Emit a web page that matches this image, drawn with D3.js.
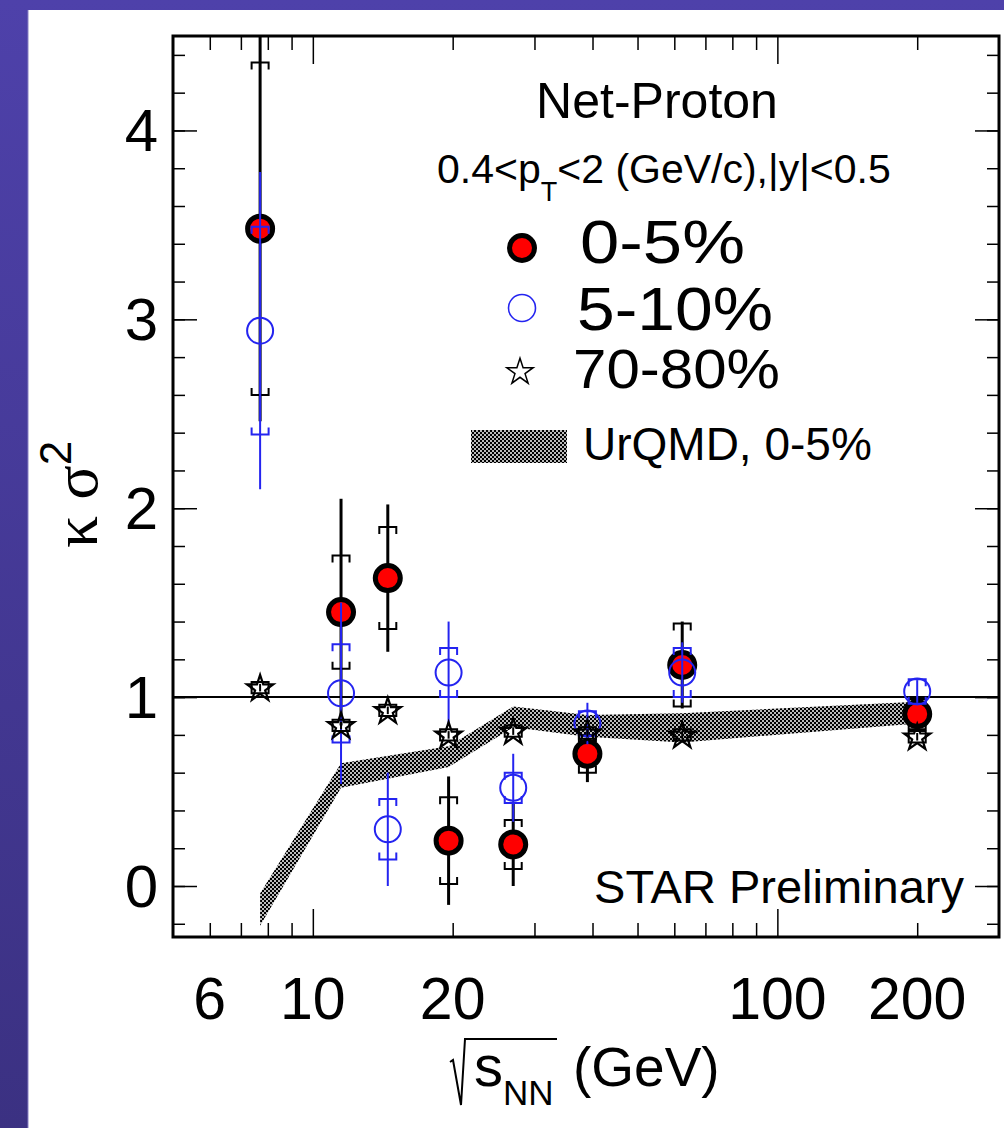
<!DOCTYPE html>
<html>
<head>
<meta charset="utf-8">
<script src="https://cdn.jsdelivr.net/npm/d3@7"></script>
<style>
  body { margin: 0; background: #fff; }
  svg text { font-family: "Liberation Sans", Arial, Helvetica, sans-serif; fill: #000; }
</style>
</head>
<body>
<div id="chart"></div>
<script>
// beam energies (GeV)
const energies = [7.7, 11.5, 14.5, 19.6, 27, 39, 62.4, 200];

// 0-5% central
const central05 = [3.48, 1.45, 1.63, 0.24, 0.22, 0.70, 1.17, 0.91];
const central05Stat = [1.02, 0.60, 0.39, 0.34, 0.22, 0.15, 0.23, 0.06];
const central05Sys = [0.88, 0.30, 0.27, 0.23, 0.13, 0.10, 0.22, 0.08];

// 5-10%
const central510 = [2.94, 1.02, 0.30, 1.13, 0.52, 0.86, 1.13, 1.03];
const central510Stat = [0.84, 0.48, 0.30, 0.27, 0.18, 0.11, 0.16, 0.06];
const central510Sys = [0.55, 0.26, 0.16, 0.13, 0.08, 0.065, 0.13, 0.065];

// 70-80%
const peripheral = [1.05, 0.85, 0.93, 0.80, 0.82, 0.81, 0.80, 0.79];
const peripheralStat = [0.02, 0.02, 0.02, 0.02, 0.02, 0.02, 0.02, 0.02];
const peripheralSys = [0.03, 0.03, 0.03, 0.03, 0.03, 0.03, 0.03, 0.03];

// UrQMD 0-5% band
const urqmdEnergies = [7.7, 11.5, 19.6, 27, 39, 62.4, 200];
const urqmdHigh = [-0.04, 0.65, 0.74, 0.95, 0.905, 0.915, 0.975];
const urqmdLow = [-0.21, 0.52, 0.63, 0.84, 0.79, 0.76, 0.86];

const xMajorTicks = [10, 100];
const xMinorTicks = [6, 7, 8, 9, 20, 30, 40, 50, 60, 70, 80, 90, 200];
const xTickLabels = [6, 10, 20, 100, 200];
const yLabels = [0, 1, 2, 3, 4];
const yMajorTicks = [0, 1, 2, 3, 4];
const yMinorTicks = d3.range(-0.2, 4.41, 0.2).map((d) => +d.toFixed(1));

const W = 1004, H = 1128;
const frame = { left: 173, top: 36, right: 999, bottom: 937 };

const svg = d3.select("#chart").append("svg")
  .attr("width", W)
  .attr("height", H);

const defs = svg.append("defs");

const grad = defs.append("linearGradient")
  .attr("id", "bandGrad")
  .attr("x1", 0).attr("y1", 0).attr("x2", 0).attr("y2", 1);
grad.append("stop").attr("offset", "0%").attr("stop-color", "#4e41aa");
grad.append("stop").attr("offset", "100%").attr("stop-color", "#3b3182");

// fine checkerboard used for the model band
const checker = defs.append("pattern")
  .attr("id", "checker")
  .attr("width", 4).attr("height", 4)
  .attr("patternUnits", "userSpaceOnUse");
checker.append("rect").attr("x", 0).attr("y", 0).attr("width", 2).attr("height", 2)
  .attr("fill", "#000").attr("shape-rendering", "crispEdges");
checker.append("rect").attr("x", 2).attr("y", 2).attr("width", 2).attr("height", 2)
  .attr("fill", "#000").attr("shape-rendering", "crispEdges");
checker.append("rect").attr("x", 2).attr("y", 0).attr("width", 2).attr("height", 2)
  .attr("fill", "#bbb").attr("shape-rendering", "crispEdges");
checker.append("rect").attr("x", 0).attr("y", 2).attr("width", 2).attr("height", 2)
  .attr("fill", "#bbb").attr("shape-rendering", "crispEdges");

defs.append("clipPath").attr("id", "plotClip")
  .append("rect")
  .attr("x", frame.left).attr("y", frame.top)
  .attr("width", frame.right - frame.left)
  .attr("height", frame.bottom - frame.top);

// slide background
svg.append("rect").attr("width", W).attr("height", H).attr("fill", "url(#bandGrad)");
svg.append("rect").attr("x", 28).attr("y", 10).attr("width", W - 28).attr("height", H - 10).attr("fill", "#fff");
svg.append("line").attr("x1", 28).attr("x2", 28).attr("y1", 10).attr("y2", H)
  .attr("stroke", "#8a82c4").attr("stroke-width", 1);

const x = d3.scaleLog().domain([5, 300]).range([frame.left, frame.right]);
const y = d3.scaleLinear().domain([-0.27, 4.5]).range([frame.bottom, frame.top]);

const plot = svg.append("g").attr("clip-path", "url(#plotClip)");

// UrQMD band
const bandPts = urqmdEnergies.map((e, i) => [x(e), y(urqmdHigh[i])])
  .concat(urqmdEnergies.map((e, i) => [x(e), y(urqmdLow[i])]).reverse());
plot.append("path")
  .attr("d", d3.line()(bandPts) + "Z")
  .attr("fill", "url(#checker)");

// reference line at 1
plot.append("line")
  .attr("x1", frame.left).attr("x2", frame.right)
  .attr("y1", y(1)).attr("y2", y(1))
  .attr("stroke", "#000").attr("stroke-width", 2);

function drawErrors(vals, stat, sys, color, statWidth) {
  const g = plot.append("g");
  const pts = energies.map((e, i) => ({ e, v: vals[i], st: stat[i], sy: sys[i] }));
  g.selectAll("line.stat").data(pts).join("line")
    .attr("x1", (d) => x(d.e)).attr("x2", (d) => x(d.e))
    .attr("y1", (d) => y(d.v + d.st)).attr("y2", (d) => y(d.v - d.st))
    .attr("stroke", color).attr("stroke-width", statWidth);
  const hw = 8.5, tk = 7;
  g.selectAll("path.sysU").data(pts).join("path")
    .attr("d", (d) => {
      const cx = x(d.e), yy = y(d.v + d.sy);
      return `M${cx - hw},${yy + tk}V${yy}H${cx + hw}V${yy + tk}`;
    })
    .attr("fill", "none").attr("stroke", color).attr("stroke-width", 2);
  g.selectAll("path.sysL").data(pts).join("path")
    .attr("d", (d) => {
      const cx = x(d.e), yy = y(d.v - d.sy);
      return `M${cx - hw},${yy - tk}V${yy}H${cx + hw}V${yy - tk}`;
    })
    .attr("fill", "none").attr("stroke", color).attr("stroke-width", 2);
  return g;
}

const star = d3.symbol().type(d3.symbolStar).size(215);

// 0-5%
const gRed = drawErrors(central05, central05Stat, central05Sys, "#000", 3);
gRed.selectAll("circle").data(energies).join("circle")
  .attr("cx", (d) => x(d)).attr("cy", (d, i) => y(central05[i]))
  .attr("r", 12.5).attr("fill", "#ff0000").attr("stroke", "#000").attr("stroke-width", 5);

// 5-10%
const gBlue = drawErrors(central510, central510Stat, central510Sys, "#2424f0", 2);
gBlue.selectAll("circle").data(energies).join("circle")
  .attr("cx", (d) => x(d)).attr("cy", (d, i) => y(central510[i]))
  .attr("r", 13).attr("fill", "none").attr("stroke", "#2424f0").attr("stroke-width", 2);

// 70-80%
const gStar = drawErrors(peripheral, peripheralStat, peripheralSys, "#000", 2);
gStar.selectAll("path.star").data(energies).join("path")
  .attr("class", "star")
  .attr("transform", (d, i) => `translate(${x(d)},${y(peripheral[i]) + 1})`)
  .attr("d", star)
  .attr("fill", "none").attr("stroke", "#000").attr("stroke-width", 2.2);

// axes ticks (inward on all four sides)
function tickAxis(axis, transform, values, size) {
  const g = svg.append("g")
    .attr("transform", transform)
    .call(axis.tickValues(values).tickSize(size).tickFormat(""));
  g.select(".domain").remove();
  g.selectAll(".tick line").attr("stroke", "#000").attr("stroke-width", 1.5);
}
tickAxis(d3.axisLeft(y), `translate(${frame.left},0)`, yMinorTicks, -12);
tickAxis(d3.axisLeft(y), `translate(${frame.left},0)`, yMajorTicks, -24);
tickAxis(d3.axisRight(y), `translate(${frame.right},0)`, yMinorTicks, -12);
tickAxis(d3.axisRight(y), `translate(${frame.right},0)`, yMajorTicks, -24);
tickAxis(d3.axisBottom(x), `translate(0,${frame.bottom})`, xMinorTicks, -14);
tickAxis(d3.axisBottom(x), `translate(0,${frame.bottom})`, xMajorTicks, -28);
tickAxis(d3.axisTop(x), `translate(0,${frame.top})`, xMinorTicks, -14);
tickAxis(d3.axisTop(x), `translate(0,${frame.top})`, xMajorTicks, -28);

svg.append("rect")
  .attr("x", frame.left).attr("y", frame.top)
  .attr("width", frame.right - frame.left).attr("height", frame.bottom - frame.top)
  .attr("fill", "none").attr("stroke", "#000").attr("stroke-width", 3);

// tick labels
svg.append("g").selectAll("text").data(yLabels).join("text")
  .attr("x", 158).attr("y", (d) => y(d) + 21)
  .attr("text-anchor", "end")
  .attr("font-size", 60)
  .text((d) => d);

svg.append("g").selectAll("text").data(xTickLabels).join("text")
  .attr("x", (d) => x(d)).attr("y", 1019)
  .attr("text-anchor", "middle")
  .attr("font-size", 59)
  .text((d) => d);

// y title
const yt = svg.append("text")
  .attr("transform", "translate(97,548) rotate(-90)")
  .attr("font-size", 64);
yt.append("tspan").attr("font-family", "Liberation Serif, serif").text("κ σ");
yt.append("tspan").attr("font-size", 44).attr("dy", -26).text("2");

// x title
svg.append("path")
  .attr("d", "M450,1062 L453,1060 L461,1105 L465,1039 H557")
  .attr("fill", "none").attr("stroke", "#000").attr("stroke-width", 2);
svg.append("text").attr("x", 474).attr("y", 1086).attr("font-size", 58).text("s");
svg.append("text").attr("x", 503).attr("y", 1105).attr("font-size", 35).text("NN");
svg.append("text").attr("x", 573).attr("y", 1086).attr("font-size", 55).text("(GeV)");

// legend and labels
svg.append("text").attr("x", 657).attr("y", 118).attr("text-anchor", "middle")
  .attr("font-size", 50).text("Net-Proton");

const sub = svg.append("text").attr("x", 437).attr("y", 183).attr("font-size", 41);
sub.append("tspan").text("0.4<p");
sub.append("tspan").attr("font-size", 27).attr("dy", 18).text("T");
sub.append("tspan").attr("dy", -18).text("<2 (GeV/c),|y|<0.5");

const legendRows = [
  { label: "0-5%", y: 263, size: 62, len: 165, sym: "red", cy: 248, tx: 580 },
  { label: "5-10%", y: 330, size: 61, len: 196, sym: "blue", cy: 308, tx: 577 },
  { label: "70-80%", y: 388, size: 56, len: 207, sym: "star", cy: 372, tx: 573 },
];
const legend = svg.append("g");
legendRows.forEach((r) => {
  if (r.sym === "red") {
    legend.append("circle").attr("cx", 522).attr("cy", r.cy).attr("r", 12.5)
      .attr("fill", "#ff0000").attr("stroke", "#000").attr("stroke-width", 5);
  } else if (r.sym === "blue") {
    legend.append("circle").attr("cx", 522).attr("cy", r.cy).attr("r", 13.5)
      .attr("fill", "none").attr("stroke", "#2424f0").attr("stroke-width", 1.6);
  } else {
    legend.append("path").attr("transform", `translate(520,${r.cy})`)
      .attr("d", star).attr("fill", "none").attr("stroke", "#000").attr("stroke-width", 1.5);
  }
  legend.append("text").attr("x", r.tx).attr("y", r.y)
    .attr("font-size", r.size)
    .attr("textLength", r.len).attr("lengthAdjust", "spacingAndGlyphs")
    .text(r.label);
});
legend.append("rect").attr("x", 471).attr("y", 430).attr("width", 96).attr("height", 33)
  .attr("fill", "url(#checker)");
legend.append("text").attr("x", 583).attr("y", 460).attr("font-size", 46).text("UrQMD, 0-5%");

svg.append("text").attr("x", 964).attr("y", 903).attr("text-anchor", "end")
  .attr("font-size", 47).text("STAR Preliminary");
</script>
</body>
</html>
